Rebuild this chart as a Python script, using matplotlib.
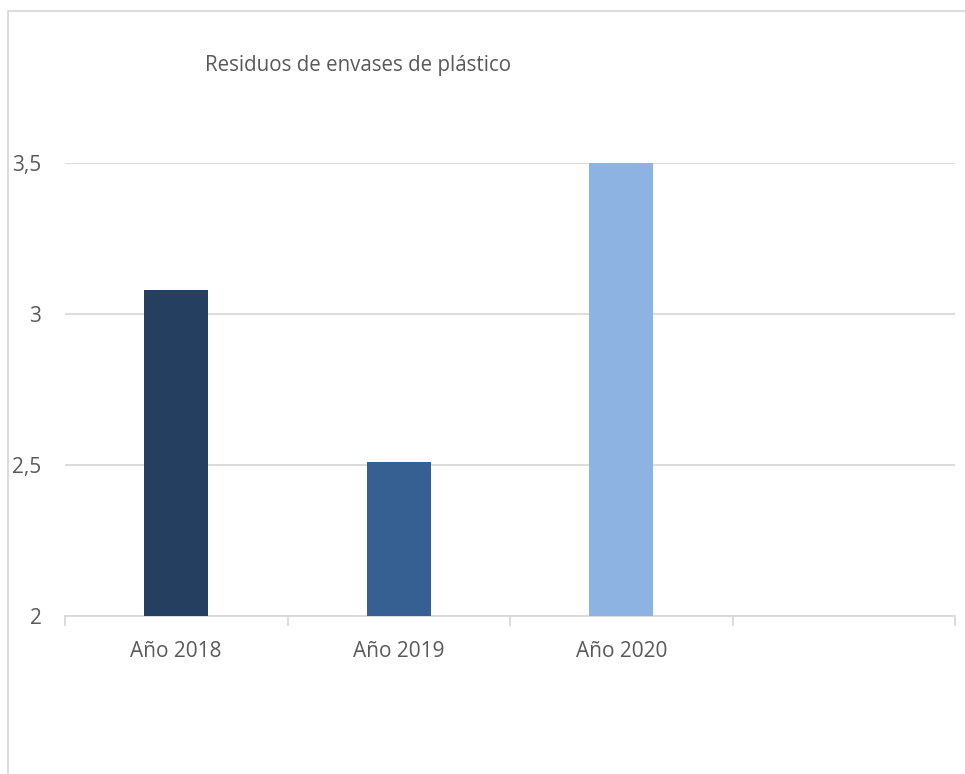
import matplotlib
matplotlib.use("Agg")
import matplotlib.pyplot as plt
from matplotlib.patches import Rectangle
from matplotlib.ticker import FuncFormatter

categories = ["Año 2018", "Año 2019", "Año 2020"]
values = [3.08, 2.51, 3.5]
colors = ["#243F60", "#366092", "#8DB3E2"]
yticks = [2, 2.5, 3, 3.5]
title = "Residuos de envases de plástico"

plt.rcParams['font.family'] = ['Open Sans', 'DejaVu Sans']

W, H = 965, 774
fig = plt.figure(figsize=(W / 100, H / 100), dpi=100)
ax = fig.add_axes([65 / W, 1 - 616 / H, (955 - 65) / W, (616 - 163) / H])

x = list(range(len(categories)))
ax.bar(x, [v - 2 for v in values], bottom=2, width=0.288, color=colors, zorder=3)

ax.set_xlim(-0.5, 3.5)
ax.set_ylim(2, 3.5)
ax.set_yticks(yticks)
ax.yaxis.set_major_formatter(FuncFormatter(lambda v, p: ("%g" % v).replace(".", ",")))
ax.tick_params(axis='y', length=0, pad=17, labelsize=15, labelcolor="#595959")
ax.grid(axis='y', color="#D9D9D9", linewidth=1.3, zorder=0)

ax.set_xticks([-0.5, 0.5, 1.5, 2.5, 3.5])
ax.set_xticklabels([])
ax.set_xticks(x, minor=True)
ax.set_xticklabels(categories, minor=True)
ax.tick_params(axis='x', which='major', length=7, width=1.3, color="#D9D9D9", direction='out')
ax.tick_params(axis='x', which='minor', length=0, pad=18, labelsize=15, labelcolor="#595959")

for s in ['top', 'right', 'left']:
    ax.spines[s].set_visible(False)
ax.spines['bottom'].set_color("#D9D9D9")
ax.spines['bottom'].set_linewidth(1.3)

fig.text(205 / W, 1 - 65 / H, title, ha='left', va='center', fontsize=14.8, color="#595959")

fig.patches.append(Rectangle((8 / W, -0.1), 1.2, 1 - 11 / H + 0.1, transform=fig.transFigure,
                             fill=False, edgecolor="#D9D9D9", linewidth=1.3))

fig.savefig("out.png", dpi=100)
